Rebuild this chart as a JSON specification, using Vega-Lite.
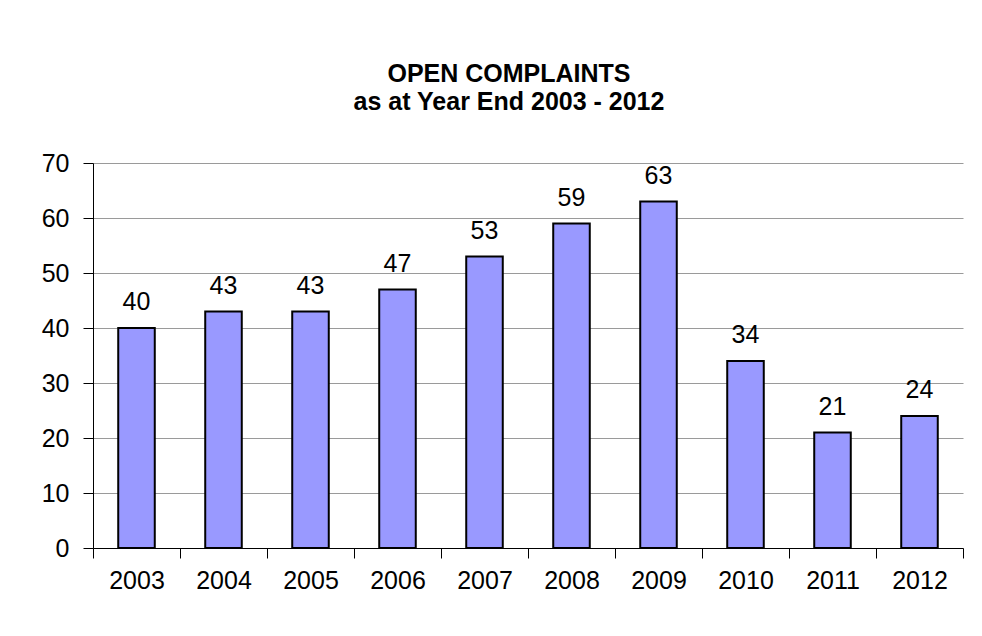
{
  "$schema": "https://vega.github.io/schema/vega-lite/v6.json",
  "autosize": {"type": "none"},
  "width": 870,
  "height": 385,
  "padding": {"left": 93, "top": 163, "right": 19, "bottom": 88},
  "background": "white",
  "title": {
    "text": ["OPEN COMPLAINTS", "as at Year End 2003 - 2012"],
    "anchor": "middle",
    "frame": "group",
    "font": "Liberation Sans",
    "fontSize": 25,
    "fontWeight": "bold",
    "color": "black",
    "lineHeight": 28,
    "offset": 36,
    "dx": -19
  },
  "data": {
    "values": [
      {"year": "2003", "count": 40},
      {"year": "2004", "count": 43},
      {"year": "2005", "count": 43},
      {"year": "2006", "count": 47},
      {"year": "2007", "count": 53},
      {"year": "2008", "count": 59},
      {"year": "2009", "count": 63},
      {"year": "2010", "count": 34},
      {"year": "2011", "count": 21},
      {"year": "2012", "count": 24}
    ]
  },
  "encoding": {
    "x": {
      "field": "year",
      "type": "nominal",
      "sort": null,
      "scale": {"paddingInner": 0, "paddingOuter": 0},
      "axis": {
        "title": null,
        "labelAngle": 0,
        "labelFont": "Liberation Sans",
        "labelFontSize": 25,
        "labelColor": "black",
        "labelPadding": 10,
        "tickBand": "extent",
        "tickSize": 10,
        "tickColor": "black",
        "domainColor": "black",
        "grid": false
      }
    },
    "y": {
      "field": "count",
      "type": "quantitative",
      "scale": {"domain": [0, 70], "nice": false},
      "axis": {
        "title": null,
        "values": [0, 10, 20, 30, 40, 50, 60, 70],
        "labelFont": "Liberation Sans",
        "labelFontSize": 25,
        "labelColor": "black",
        "labelPadding": 14,
        "tickSize": 10,
        "tickColor": "black",
        "domainColor": "black",
        "grid": true,
        "gridColor": "#9a9a9a",
        "gridWidth": 1
      }
    }
  },
  "layer": [
    {
      "mark": {"type": "bar", "fill": "#9999ff", "stroke": "black", "strokeWidth": 2, "width": {"band": 0.42}}
    },
    {
      "mark": {
        "type": "text",
        "baseline": "alphabetic",
        "dy": -18,
        "font": "Liberation Sans",
        "fontSize": 25,
        "color": "black"
      },
      "encoding": {"text": {"field": "count", "type": "quantitative"}}
    }
  ],
  "config": {
    "view": {"stroke": null}
  }
}
